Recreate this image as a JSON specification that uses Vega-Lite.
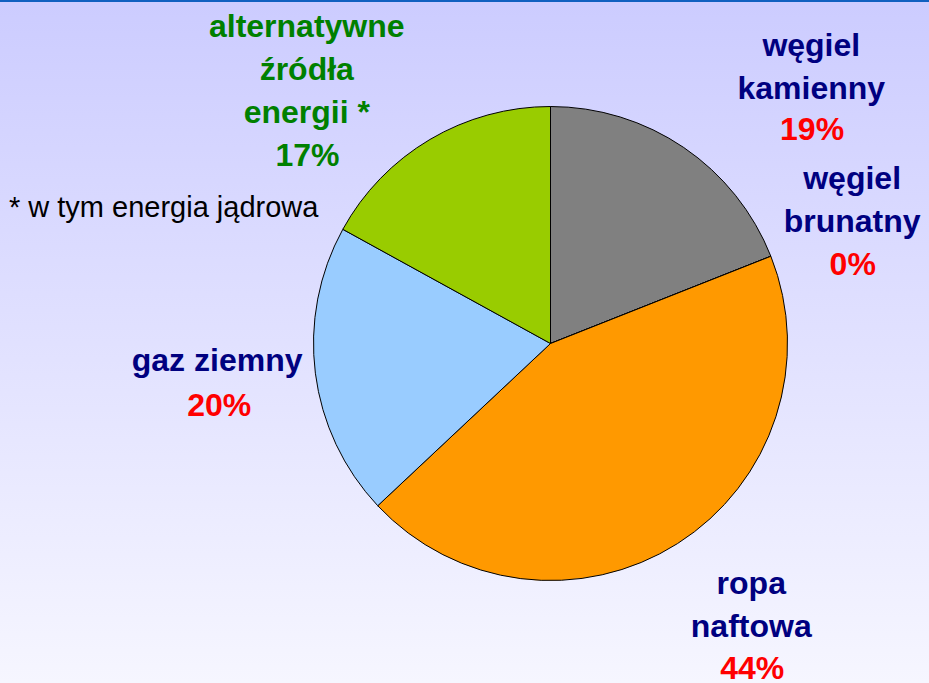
{
  "$schema": "https://vega.github.io/schema/vega-lite/v6.json",
  "width": 929,
  "height": 683,
  "autosize": "none",
  "padding": 0,
  "background": "#F6F6FF",
  "config": {"view": {"stroke": null}},
  "datasets": {
    "energy": [
      {"o": 1, "cat": "węgiel kamienny", "v": 19, "name": "węgiel\nkamienny", "pct": "19%"},
      {"o": 2, "cat": "węgiel brunatny", "v": 0, "name": "węgiel\nbrunatny", "pct": "0%"},
      {"o": 3, "cat": "ropa naftowa", "v": 44, "name": "ropa\nnaftowa", "pct": "44%"},
      {"o": 4, "cat": "gaz ziemny", "v": 20, "name": "gaz ziemny", "pct": "20%"},
      {"o": 5, "cat": "alternatywne źródła energii", "v": 17, "name": "alternatywne\nźródła\nenergii *", "pct": "17%"}
    ]
  },
  "data": {"name": "energy"},
  "layer": [
    {
      "data": {"values": [{"bg": 1}]},
      "mark": {
        "type": "rect",
        "color": {
          "gradient": "linear", "x1": 0, "y1": 0, "x2": 0, "y2": 1,
          "stops": [
            {"offset": 0, "color": "#1060C0"},
            {"offset": 0.003, "color": "#1060C0"},
            {"offset": 0.0035, "color": "#CCCCFF"},
            {"offset": 1, "color": "#F6F6FF"}
          ]
        }
      },
      "encoding": {}
    },
    {
      "mark": {"type": "arc", "radius": 237, "stroke": "#000000", "strokeWidth": 1, "x": {"expr": "width/2 + 86"}, "y": {"expr": "height/2 + 2"}},
      "encoding": {
        "theta": {"field": "v", "type": "quantitative", "stack": true, "scale": {"domain": [0, 100]}},
        "order": {"field": "o", "type": "quantitative"},
        "color": {
          "field": "cat", "type": "nominal", "legend": null,
          "scale": {
            "domain": ["węgiel kamienny", "węgiel brunatny", "ropa naftowa", "gaz ziemny", "alternatywne źródła energii"],
            "range": ["#808080", "#606060", "#FF9900", "#99CCFF", "#99CC00"]
          }
        }
      }
    },
    {
      "mark": {"type": "text", "radius": 375, "dx": 50, "dy": 12.5, "font": "Liberation Sans", "fontWeight": "bold", "fontSize": 32, "lineHeight": 43, "lineBreak": "\n", "align": "center", "baseline": "middle", "color": "#000080", "x": {"expr": "width/2 + 86"}, "y": {"expr": "height/2 + 2"}},
      "encoding": {
        "theta": {"field": "v", "type": "quantitative", "stack": true},
        "order": {"field": "o", "type": "quantitative"},
        "text": {"condition": {"test": "datum.o == 1", "field": "name"}, "value": ""}
      }
    },
    {
      "mark": {"type": "text", "radius": 323, "dx": 80, "dy": 54, "font": "Liberation Sans", "fontWeight": "bold", "fontSize": 32, "align": "center", "baseline": "middle", "color": "#FF0000", "x": {"expr": "width/2 + 86"}, "y": {"expr": "height/2 + 2"}},
      "encoding": {
        "theta": {"field": "v", "type": "quantitative", "stack": true},
        "order": {"field": "o", "type": "quantitative"},
        "text": {"condition": {"test": "datum.o == 1", "field": "pct"}, "value": ""}
      }
    },
    {
      "mark": {"type": "text", "radius": 333, "dx": -8, "dy": -41.5, "font": "Liberation Sans", "fontWeight": "bold", "fontSize": 32, "lineHeight": 43, "lineBreak": "\n", "align": "center", "baseline": "middle", "color": "#000080", "x": {"expr": "width/2 + 86"}, "y": {"expr": "height/2 + 2"}},
      "encoding": {
        "theta": {"field": "v", "type": "quantitative", "stack": true},
        "order": {"field": "o", "type": "quantitative"},
        "text": {"condition": {"test": "datum.o == 2", "field": "name"}, "value": ""}
      }
    },
    {
      "mark": {"type": "text", "radius": 310, "dx": 14, "dy": 36, "font": "Liberation Sans", "fontWeight": "bold", "fontSize": 32, "align": "center", "baseline": "middle", "color": "#FF0000", "x": {"expr": "width/2 + 86"}, "y": {"expr": "height/2 + 2"}},
      "encoding": {
        "theta": {"field": "v", "type": "quantitative", "stack": true},
        "order": {"field": "o", "type": "quantitative"},
        "text": {"condition": {"test": "datum.o == 2", "field": "pct"}, "value": ""}
      }
    },
    {
      "mark": {"type": "text", "radius": 328, "dx": 25, "dy": -36.5, "font": "Liberation Sans", "fontWeight": "bold", "fontSize": 32, "lineHeight": 43, "lineBreak": "\n", "align": "center", "baseline": "middle", "color": "#000080", "x": {"expr": "width/2 + 86"}, "y": {"expr": "height/2 + 2"}},
      "encoding": {
        "theta": {"field": "v", "type": "quantitative", "stack": true},
        "order": {"field": "o", "type": "quantitative"},
        "text": {"condition": {"test": "datum.o == 3", "field": "name"}, "value": ""}
      }
    },
    {
      "mark": {"type": "text", "radius": 382, "dx": -3, "dy": 3, "font": "Liberation Sans", "fontWeight": "bold", "fontSize": 32, "align": "center", "baseline": "middle", "color": "#FF0000", "x": {"expr": "width/2 + 86"}, "y": {"expr": "height/2 + 2"}},
      "encoding": {
        "theta": {"field": "v", "type": "quantitative", "stack": true},
        "order": {"field": "o", "type": "quantitative"},
        "text": {"condition": {"test": "datum.o == 3", "field": "pct"}, "value": ""}
      }
    },
    {
      "mark": {"type": "text", "radius": 333, "dx": -3, "dy": -24, "font": "Liberation Sans", "fontWeight": "bold", "fontSize": 32, "lineHeight": 43, "lineBreak": "\n", "align": "center", "baseline": "middle", "color": "#000080", "x": {"expr": "width/2 + 86"}, "y": {"expr": "height/2 + 2"}},
      "encoding": {
        "theta": {"field": "v", "type": "quantitative", "stack": true},
        "order": {"field": "o", "type": "quantitative"},
        "text": {"condition": {"test": "datum.o == 4", "field": "name"}, "value": ""}
      }
    },
    {
      "mark": {"type": "text", "radius": 336, "dx": 2, "dy": 20, "font": "Liberation Sans", "fontWeight": "bold", "fontSize": 32, "align": "center", "baseline": "middle", "color": "#FF0000", "x": {"expr": "width/2 + 86"}, "y": {"expr": "height/2 + 2"}},
      "encoding": {
        "theta": {"field": "v", "type": "quantitative", "stack": true},
        "order": {"field": "o", "type": "quantitative"},
        "text": {"condition": {"test": "datum.o == 4", "field": "pct"}, "value": ""}
      }
    },
    {
      "mark": {"type": "text", "radius": 359, "dx": -61, "dy": -7, "font": "Liberation Sans", "fontWeight": "bold", "fontSize": 32, "lineHeight": 43, "lineBreak": "\n", "align": "center", "baseline": "middle", "color": "#008000", "x": {"expr": "width/2 + 86"}, "y": {"expr": "height/2 + 2"}},
      "encoding": {
        "theta": {"field": "v", "type": "quantitative", "stack": true},
        "order": {"field": "o", "type": "quantitative"},
        "text": {"condition": {"test": "datum.o == 5", "field": "name"}, "value": ""}
      }
    },
    {
      "mark": {"type": "text", "radius": 285, "dx": -98, "dy": 58, "font": "Liberation Sans", "fontWeight": "bold", "fontSize": 32, "align": "center", "baseline": "middle", "color": "#008000", "x": {"expr": "width/2 + 86"}, "y": {"expr": "height/2 + 2"}},
      "encoding": {
        "theta": {"field": "v", "type": "quantitative", "stack": true},
        "order": {"field": "o", "type": "quantitative"},
        "text": {"condition": {"test": "datum.o == 5", "field": "pct"}, "value": ""}
      }
    },
    {
      "mark": {"type": "text", "radius": 392, "dx": -342, "dy": 202, "font": "Liberation Sans", "fontSize": 29, "align": "left", "baseline": "middle", "color": "#000000", "x": {"expr": "width/2 + 86"}, "y": {"expr": "height/2 + 2"}},
      "encoding": {
        "theta": {"field": "v", "type": "quantitative", "stack": true},
        "order": {"field": "o", "type": "quantitative"},
        "text": {"condition": {"test": "datum.o == 5", "value": "* w tym energia jądrowa"}, "value": ""}
      }
    }
  ]
}
